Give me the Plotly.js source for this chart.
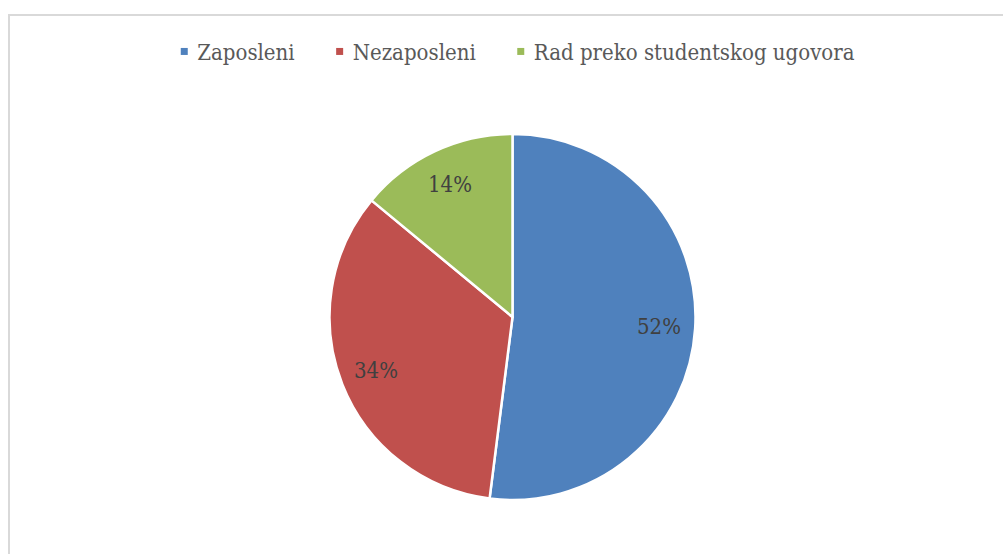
<!DOCTYPE html>
<html><head><meta charset="utf-8">
<script src="https://cdn.plot.ly/plotly-3.0.1.min.js"></script>
<style>
html,body{margin:0;padding:0;background:#fff;}
#frame{position:absolute;left:8px;top:14px;width:1010px;height:560px;border:2px solid #d9d9d9;box-sizing:border-box;}
#chart{position:absolute;left:0;top:0;width:1003px;height:554px;}
</style></head>
<body>
<div id="frame"></div>
<div id="chart"></div>
<script>
const labels = ["Zaposleni", "Nezaposleni", "Rad preko studentskog ugovora"];
const values = [52, 34, 14];
const colors = ["#4f81bd", "#c0504d", "#9bbb59"];

const W = 1003, H = 554;
const M = {l: 22, r: 0, t: 134, b: 54};
const plotW = W - M.l - M.r, plotH = H - M.t - M.b;
const R = Math.min(plotW, plotH) / 2;
const FONT = "DejaVu Serif Condensed, DejaVu Serif, serif";

// percentage labels placed at slice mid-angle, 0.8 of radius
const total = values.reduce((a, b) => a + b, 0);
let acc = 0;
const annotations = values.map((v, i) => {
  const mid = (acc + v / 2) / total * 2 * Math.PI;
  acc += v;
  const rr = 0.8 * R;
  return {
    xref: "paper", yref: "paper",
    x: 0.5 + rr * Math.sin(mid) / plotW,
    y: 0.5 + rr * Math.cos(mid) / plotH,
    text: Math.round(v / total * 100) + "%",
    showarrow: false,
    font: {family: FONT, size: 22, color: "#404040"},
    xanchor: "center", yanchor: "middle"
  };
});

Plotly.newPlot("chart", [{
  type: "pie",
  labels: labels,
  values: values,
  sort: false,
  direction: "clockwise",
  rotation: 0,
  marker: {colors: colors, line: {color: "#ffffff", width: 2.5}},
  textinfo: "none",
  hoverinfo: "label+percent"
}], {
  width: W, height: H,
  paper_bgcolor: "rgba(0,0,0,0)",
  plot_bgcolor: "rgba(0,0,0,0)",
  margin: M,
  annotations: annotations,
  showlegend: true,
  legend: {
    orientation: "h",
    x: 0.5, xanchor: "center",
    y: 1.225, yanchor: "middle",
    font: {family: FONT, size: 22, color: "#595959"},
    itemwidth: 30,
    traceorder: "normal"
  }
}, {displayModeBar: false, staticPlot: true}).then(gd => {
  // restyle legend: small square markers, tighter marker-text gap, Excel-like spacing
  const legend = gd.querySelector("g.legend");
  if (!legend) return;
  legend.querySelectorAll("[clip-path]").forEach(e => e.removeAttribute("clip-path"));
  const lm = (legend.getAttribute("transform") || "").match(/translate\(([-\d.]+)[ ,]*([-\d.]+)?\)/);
  const lx = lm ? parseFloat(lm[1]) : 0;
  const items = Array.from(legend.querySelectorAll("g.traces"));
  const gapMarkerText = 13, gapTextNext = 45, half = 3.5;
  const widths = items.map(g => g.querySelector("text.legendtext").getBBox().width);
  let span = 0;
  widths.forEach((w, i) => { span += gapMarkerText + w + (i < widths.length - 1 ? gapTextNext : 0); });
  const centerX = 519.5;
  let mx = centerX - span / 2; // absolute x of current marker center
  items.forEach((g, i) => {
    const txt = g.querySelector("text.legendtext");
    const textX = parseFloat(txt.getAttribute("x")) || 40;
    const t = g.getAttribute("transform") || "";
    const m = t.match(/translate\(([-\d.]+)[ ,]*([-\d.]+)?\)/);
    const ty = m && m[2] ? parseFloat(m[2]) : 0;
    // item local: text at textX; we want absolute text start = mx + gap
    const itemTx = mx + gapMarkerText - textX - lx;
    g.setAttribute("transform", "translate(" + itemTx + "," + ty + ")");
    g.querySelectorAll(".legendpoints path").forEach(p => {
      p.setAttribute("d", "M" + half + "," + half + "H-" + half + "V-" + half + "H" + half + "Z");
      p.setAttribute("transform", "translate(" + (textX - gapMarkerText) + ",0)");
      p.style.strokeWidth = "0";
    });
    mx += gapMarkerText + widths[i] + gapTextNext;
  });
});
</script>
</body></html>
